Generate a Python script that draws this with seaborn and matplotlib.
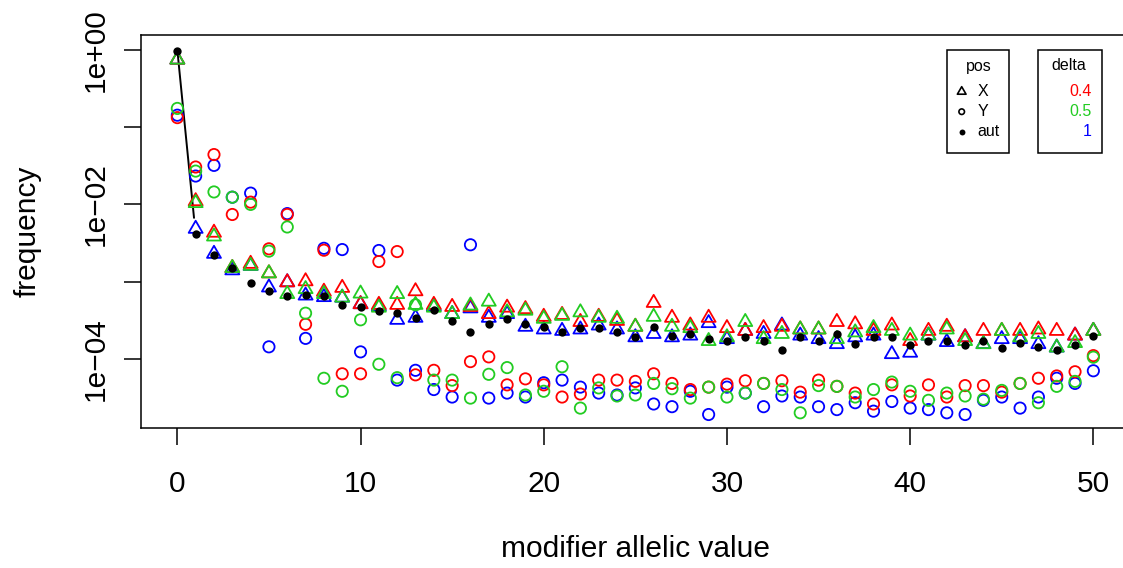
import numpy as np
import pandas as pd
import matplotlib
matplotlib.use("Agg")
import matplotlib.pyplot as plt
from matplotlib.path import Path
from matplotlib.patches import Rectangle
from matplotlib.ticker import FixedLocator, FixedFormatter, NullLocator
import seaborn as sns

# ---- data -----------------------------------------------------------------
allele = list(range(51))

# X-linked modifier (triangles), one series per delta
x_d04 = [0.75, 0.011, 0.0043, 0.0015, 0.0017, 0.00128, 0.00098, 0.00101, 0.00074, 0.00083,
         0.00051, 0.0005, 0.0005, 0.00075, 0.0005, 0.00047, 0.00047, 0.00038, 0.00046, 0.00044,
         0.00035, 0.00037, 0.0003, 0.00035, 0.00031, 0.00026, 0.00053, 0.00034, 0.00027, 0.00034,
         0.00025, 0.00023, 0.00025, 0.00026, 0.00024, 0.00024, 0.0003, 0.00028, 0.00023, 0.00027,
         0.00017, 0.00023, 0.00026, 0.00019, 0.00023, 0.00023, 0.00023, 0.00024, 0.00023, 0.0002,
         0.00023]
x_d05 = [0.75, 0.0104, 0.00384, 0.0015, 0.0016, 0.00128, 0.00069, 0.0008, 0.00069, 0.00062,
         0.0007, 0.00046, 0.00069, 0.0005, 0.00046, 0.00038, 0.00049, 0.00055, 0.0004, 0.00042,
         0.00033, 0.00036, 0.0004, 0.00034, 0.00033, 0.00026, 0.00035, 0.00026, 0.00025, 0.00017,
         0.00019, 0.0003, 0.00018, 0.00021, 0.00024, 0.00024, 0.00018, 0.00022, 0.00025, 0.00023,
         0.0002, 0.0002, 0.00024, 0.00017, 0.000155, 0.00023, 0.00019, 0.00021, 0.00014, 0.00016,
         0.00023]
x_d1 = [0.75, 0.00483, 0.00229, 0.0014, 0.0016, 0.00084, 0.00098, 0.00066, 0.00063, 0.00062,
        0.00051, 0.00048, 0.00032, 0.00034, 0.00048, 0.00038, 0.00045, 0.00034, 0.00038, 0.00026,
        0.00024, 0.00023, 0.00024, 0.00027, 0.00024, 0.00019, 0.00021, 0.00019, 0.0002, 0.00029,
        0.00018, 0.00023, 0.00021, 0.00027, 0.0002, 0.00018, 0.000155, 0.00019, 0.0002, 0.000115,
        0.00012, 0.0002, 0.000165, 0.00019, 0.000155, 0.00018, 0.00018, 0.000155, 0.00014, 0.0002,
        0.00023]

# Y-linked modifier (open circles)
y_d04 = [0.133, 0.0305, 0.0442, 0.0074, 0.0107, 0.00266, 0.0074, 0.00028, 0.00255, 6.4e-5,
         6.4e-5, 0.00182, 0.00245, 6.2e-5, 7.1e-5, 4.5e-5, 9.2e-5, 0.000106, 4.6e-5, 5.5e-5,
         4.6e-5, 3.2e-5, 3.5e-5, 5.3e-5, 5.3e-5, 5.1e-5, 6.4e-5, 4.8e-5, 4.0e-5, 4.3e-5,
         4.7e-5, 5.2e-5, 4.8e-5, 5.2e-5, 3.7e-5, 5.3e-5, 4.4e-5, 3.6e-5, 2.6e-5, 4.6e-5,
         3.3e-5, 4.6e-5, 3.2e-5, 4.5e-5, 4.5e-5, 3.7e-5, 4.8e-5, 5.6e-5, 6.0e-5, 6.8e-5,
         0.00011]
y_d05 = [0.175, 0.027, 0.0145, 0.0124, 0.010, 0.00248, 0.0051, 0.00039, 5.6e-5, 3.8e-5,
         0.00032, 8.5e-5, 5.7e-5, 0.0005, 5.3e-5, 5.3e-5, 3.1e-5, 6.3e-5, 7.7e-5, 3.4e-5,
         3.8e-5, 7.9e-5, 2.3e-5, 4.2e-5, 3.3e-5, 3.4e-5, 4.8e-5, 4.1e-5, 3.1e-5, 4.3e-5,
         3.2e-5, 3.6e-5, 4.8e-5, 4.0e-5, 2.0e-5, 4.5e-5, 4.4e-5, 3.2e-5, 4.0e-5, 5.0e-5,
         3.8e-5, 2.9e-5, 3.6e-5, 3.3e-5, 3.0e-5, 3.9e-5, 4.8e-5, 2.7e-5, 4.4e-5, 5.1e-5,
         0.000105]
y_d1 = [0.143, 0.0233, 0.032, 0.0124, 0.014, 0.000143, 0.0076, 0.000184, 0.0027, 0.0026,
        0.000123, 0.00253, 5.3e-5, 7.1e-5, 4.0e-5, 3.2e-5, 0.0030, 3.1e-5, 3.6e-5, 3.2e-5,
        4.9e-5, 5.3e-5, 4.3e-5, 3.6e-5, 3.4e-5, 4.2e-5, 2.6e-5, 2.4e-5, 3.8e-5, 1.9e-5,
        4.3e-5, 3.6e-5, 2.4e-5, 3.3e-5, 3.2e-5, 2.4e-5, 2.2e-5, 2.7e-5, 2.1e-5, 2.8e-5,
        2.3e-5, 2.2e-5, 2.0e-5, 1.9e-5, 2.9e-5, 3.2e-5, 2.3e-5, 3.2e-5, 5.6e-5, 4.8e-5,
        7.0e-5]

# autosomal modifier (filled dots)
aut = [0.97, 0.0041, 0.00224, 0.0015, 0.00096, 0.00076, 0.00065, 0.00068, 0.00066, 0.0005,
       0.00047, 0.00042, 0.00039, 0.00034, 0.00043, 0.00031, 0.00022, 0.00028, 0.00033, 0.00028,
       0.00026, 0.00022, 0.00025, 0.00025, 0.00022, 0.00019, 0.00026, 0.0002, 0.00021, 0.00018,
       0.00017, 0.00019, 0.00017, 0.000131, 0.00019, 0.00017, 0.00021, 0.000155, 0.00019, 0.00019,
       0.000152, 0.00017, 0.00017, 0.00015, 0.00017, 0.000139, 0.00016, 0.000142, 0.00013, 0.000152,
       0.0002]

# reference segment from the top
line_x = [0.0, 0.91]
line_y = [1.0, 0.0067]

delta_labels = ["0.4", "0.5", "1"]
delta_colors = {"0.4": "#FF0000", "0.5": "#22CC22", "1": "#0000FF"}
pos_labels = ["X", "Y", "aut"]

# ---- style ----------------------------------------------------------------
sns.set_style("ticks")
plt.rcParams["font.family"] = ["Liberation Sans", "DejaVu Sans"]
plt.rcParams["axes.edgecolor"] = "black"
plt.rcParams["axes.labelcolor"] = "black"
plt.rcParams["text.color"] = "black"
plt.rcParams["xtick.color"] = "black"
plt.rcParams["ytick.color"] = "black"
plt.rcParams["xtick.labelcolor"] = "black"
plt.rcParams["ytick.labelcolor"] = "black"

W, H = 1123, 568
fig = plt.figure(figsize=(W / 100, H / 100), dpi=100)
left, right, top, bottom = 140.7, 1130.0, 35.0, 428.0
ax = fig.add_axes([left / W, 1 - bottom / H, (right - left) / W, (bottom - top) / H])
ax.set_yscale("log")

# equilateral open triangle, centred on its centroid
tri = Path([(0, 1.1547), (-1, -0.57735), (1, -0.57735), (0, 1.1547)],
           [Path.MOVETO, Path.LINETO, Path.LINETO, Path.CLOSEPOLY])

sns.lineplot(x=line_x, y=line_y, ax=ax, color="black", linewidth=1.4,
             sort=False, estimator=None, legend=False, zorder=2)

series_x = {"0.4": x_d04, "0.5": x_d05, "1": x_d1}
series_y = {"0.4": y_d04, "0.5": y_d05, "1": y_d1}
for d in ["1", "0.4", "0.5"]:
    c = delta_colors[d]
    sns.scatterplot(x=allele, y=series_x[d], ax=ax, marker=tri, s=135, color=c,
                    facecolors="none", edgecolor=c, linewidth=1.3, legend=False, zorder=3)
for d in ["1", "0.4", "0.5"]:
    c = delta_colors[d]
    sns.scatterplot(x=allele, y=series_y[d], ax=ax, marker="o", s=66, color=c,
                    facecolors="none", edgecolor=c, linewidth=1.3, legend=False, zorder=3)
sns.scatterplot(x=allele, y=aut, ax=ax, marker="o", s=36, color="black",
                linewidth=0, legend=False, zorder=4)

# ---- axes -----------------------------------------------------------------
ax.set_xlim(-2, 52)
ax.set_ylim(10 ** -4.896, 10 ** 0.194)
ax.set_xticks([0, 10, 20, 30, 40, 50])
ax.set_xticklabels(["0", "10", "20", "30", "40", "50"])
ax.yaxis.set_major_locator(FixedLocator([1, 1e-1, 1e-2, 1e-3, 1e-4]))
ax.yaxis.set_major_formatter(FixedFormatter(["1e+00", "", "1e\u221202", "", "1e\u221204"]))
ax.yaxis.set_minor_locator(NullLocator())
ax.tick_params(axis="both", length=12.2, width=1.1, labelsize=21.5, direction="out",
               colors="black")
ax.tick_params(axis="y", labelrotation=90, pad=10)
ax.tick_params(axis="x", pad=18)
for lbl in ax.get_yticklabels():
    lbl.set_va("center")
for s in ax.spines.values():
    s.set_linewidth(1.1)
    s.set_color("black")

ax.set_xlabel("modifier allelic value", fontsize=21.5, color="black")
ax.xaxis.set_label_coords(0.5, (bottom - 549) / (bottom - top))
ax.xaxis.label.set_va("center")
ax.set_ylabel("frequency", fontsize=21.5, color="black")
ax.yaxis.set_label_coords((28 - left) / (right - left), 0.5)
ax.yaxis.label.set_va("center")

# ---- legends (two boxed keys, drawn in figure pixel space) ------------------
ov = fig.add_axes([0, 0, 1, 1], zorder=5)
ov.set_xlim(0, W)
ov.set_ylim(H, 0)
ov.axis("off")
ov.patch.set_alpha(0)

ov.add_patch(Rectangle((946.7, 50), 62.6, 102.7, fill=False, lw=1.1, ec="black"))
ov.text(978.3, 66, "pos", ha="center", va="center", fontsize=11.5)
rows = [91.7, 111.7, 131.7]
ov.scatter([961.7], [rows[0]], marker=tri, s=52, facecolors="none", edgecolors="black", linewidths=1.2)
ov.scatter([961.7], [rows[1]], marker="o", s=16, facecolors="none", edgecolors="black", linewidths=1.2)
ov.scatter([961.7], [rows[2]], marker="o", s=18, color="black", linewidths=0)
for r, lab in zip(rows, pos_labels):
    ov.text(977.7, r, lab, ha="left", va="center", fontsize=11.5)

ov.add_patch(Rectangle((1038.3, 50), 63.4, 102.7, fill=False, lw=1.1, ec="black"))
ov.text(1069, 66, "delta", ha="center", va="center", fontsize=11.5)
for r, lab in zip(rows, delta_labels):
    ov.text(1091.7, r, lab, ha="right", va="center", fontsize=11.5, color=delta_colors[lab])

fig.savefig("out.png", dpi=100)
